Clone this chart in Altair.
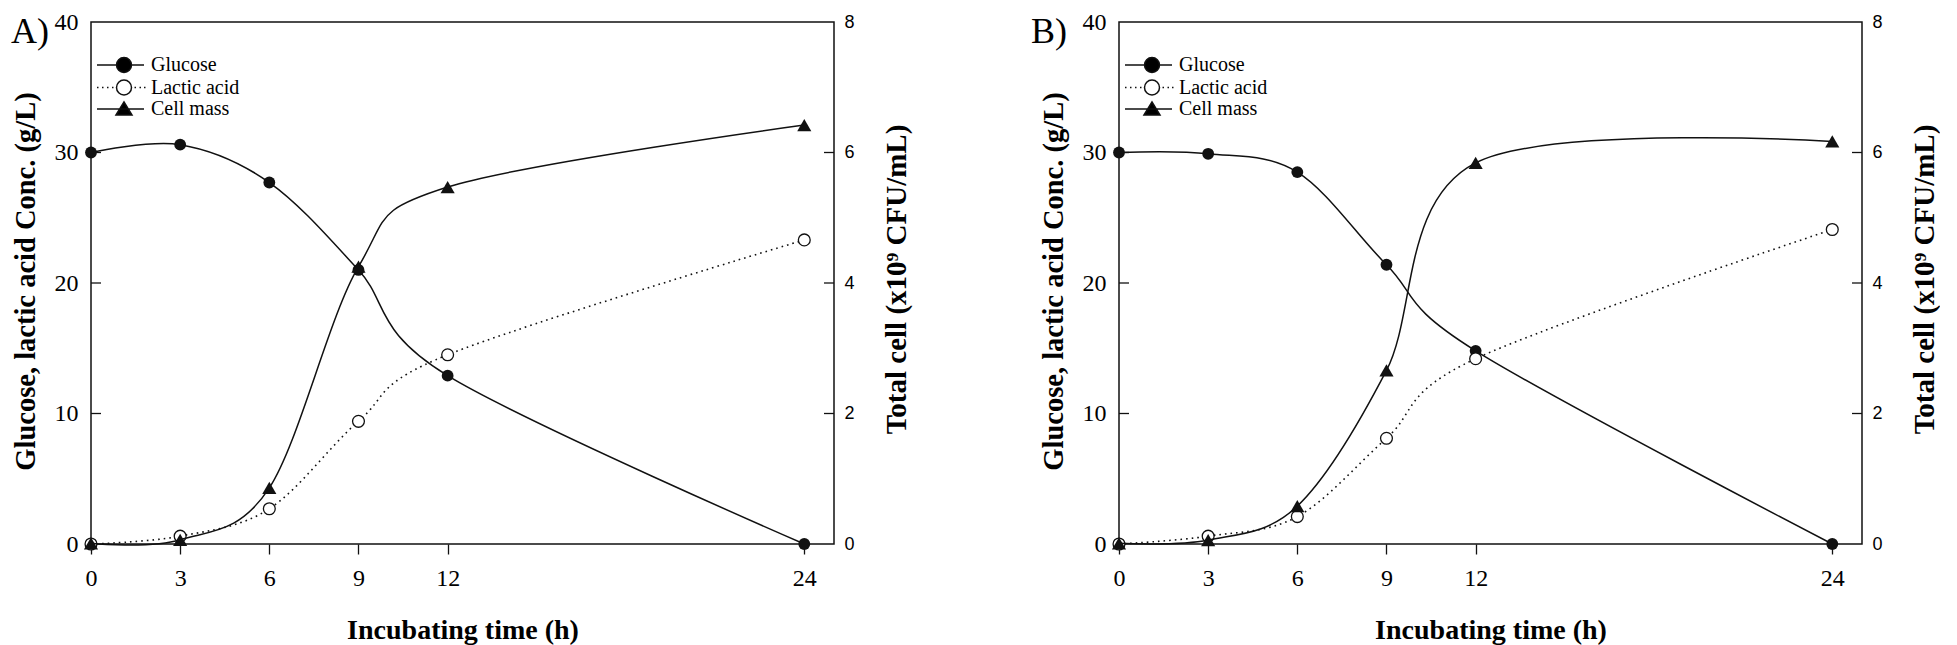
import altair as alt
import pandas as pd

# ---------------- data ----------------
hours = [0, 3, 6, 9, 12, 24]
x_ticks = [0, 3, 6, 9, 12, 24]
left_ticks = [0, 10, 20, 30, 40]
right_ticks = [0, 2, 4, 6, 8]
inner_left_ticks = [10, 20, 30]
inner_right_ticks = [2, 4, 6]
series_names = ["Glucose", "Lactic acid", "Cell mass"]
panel_labels = ["A)", "B)"]

a_glucose = [30.0, 30.6, 27.7, 21.0, 12.9, 0.0]
a_lactic = [0.0, 0.6, 2.7, 9.4, 14.5, 23.3]
a_cell = [0.01, 0.065, 0.86, 4.25, 5.47, 6.42]

b_glucose = [30.0, 29.9, 28.5, 21.4, 14.8, 0.0]
b_lactic = [0.0, 0.6, 2.1, 8.1, 14.2, 24.1]
b_cell = [0.01, 0.06, 0.58, 2.66, 5.84, 6.17]

# ---------------- styling ----------------
SERIF = "Liberation Serif"
SANS = "Liberation Sans"
INK = "#111111"
W, H = 743, 522

legend_paths = [
    "M-5.4,0H-1.5 M1.5,0H4 M1.5,0A1.5,1.5 0 1,1 -1.5,0A1.5,1.5 0 1,1 1.5,0Z",
    "M-5.4,0h0.3 M-4.4,0h0.3 M-3.4,0h0.3 M-2.4,0h0.3 M2.1,0h0.3 M3.1,0h0.3 M4.0,0h0.3 "
    "M1.5,0A1.5,1.5 0 1,1 -1.5,0A1.5,1.5 0 1,1 1.5,0Z",
    "M-5.4,0H4 M-1.6,1.2L0,-1.4L1.6,1.2Z",
]
legend_fills = ["black", "white", "black"]
legend_strokes = [INK, INK, INK]


def make_panel(label, label_dx, glucose, lactic, cell):
    conc = pd.DataFrame({
        "time": hours + hours,
        "value": glucose + lactic,
        "series": ["Glucose"] * len(hours) + ["Lactic acid"] * len(hours),
    })
    cells = pd.DataFrame({"time": hours, "value": cell, "series": ["Cell mass"] * len(hours)})
    legend_df = pd.DataFrame({"series": series_names, "time": [0] * 3, "value": [0] * 3})
    lt_df = pd.DataFrame({"value": inner_left_ticks})
    rt_df = pd.DataFrame({"value": inner_right_ticks})
    lab_df = pd.DataFrame({"label": [label]})

    x = alt.X(
        "time:Q",
        scale=alt.Scale(domain=[0, 25], nice=False, zero=True),
        axis=alt.Axis(
            values=x_ticks, title="Incubating time (h)",
            titleFont=SERIF, titleFontSize=28, titleFontWeight="bold", titleColor="black",
            titleY=94, titleBaseline="alphabetic",
            labelFont=SERIF, labelFontSize=24, labelColor="black", labelPadding=12,
            labelFlush=False, labelOverlap=False,
            tickSize=10, tickColor=INK, tickWidth=1.3,
            domain=False, grid=False,
        ),
    )
    yl = alt.Y(
        "value:Q",
        scale=alt.Scale(domain=[0, 40], nice=False),
        axis=alt.Axis(
            orient="left", values=left_ticks,
            title="Glucose, lactic acid Conc. (g/L)",
            titleFont=SERIF, titleFontSize=28.5, titleFontWeight="bold", titleColor="black",
            titleAngle=270, titleX=-66, titleY=H / 2 - 2, titleBaseline="middle", titleAlign="center",
            labelFont=SERIF, labelFontSize=24, labelColor="black", labelPadding=13,
            labelFlush=False, labelOverlap=False,
            ticks=False, tickSize=0, domain=False, grid=False,
        ),
    )
    yr = alt.Y(
        "value:Q",
        scale=alt.Scale(domain=[0, 8], nice=False),
        axis=alt.Axis(
            orient="right", values=right_ticks,
            title="Total cell (x10\u2079 CFU/mL)",
            titleFont=SERIF, titleFontSize=29, titleFontWeight="bold", titleColor="black",
            titleAngle=270, titleX=62, titleY=H / 2 - 4, titleBaseline="middle", titleAlign="center",
            labelFont=SANS, labelFontSize=18, labelColor="black", labelPadding=10,
            labelFlush=False, labelOverlap=False,
            ticks=False, tickSize=0, domain=False, grid=False,
        ),
    )

    leg = alt.Legend(
        title=None, orient="none", legendX=23, legendY=33,
        labelFont=SERIF, labelFontSize=20, labelColor="black", labelLimit=400,
        symbolSize=100, symbolStrokeWidth=1.5, symbolStrokeColor=INK, symbolOpacity=1,
        labelOffset=17, rowPadding=0.5, padding=0,
    )
    legend_layer = alt.Chart(legend_df).mark_point(opacity=0, strokeWidth=1.5).encode(
        x=x, y=yl,
        shape=alt.Shape("series:N", scale=alt.Scale(domain=series_names, range=legend_paths), legend=leg),
        fill=alt.Fill("series:N", scale=alt.Scale(domain=series_names, range=legend_fills), legend=leg),
        stroke=alt.Stroke("series:N", scale=alt.Scale(domain=series_names, range=legend_strokes), legend=leg),
    )

    base = alt.Chart(conc).encode(x=x, y=yl)
    glu = base.transform_filter(alt.datum.series == "Glucose")
    lac = base.transform_filter(alt.datum.series == "Lactic acid")
    glu_line = glu.mark_line(interpolate="cardinal", color=INK, strokeWidth=1.5)
    lac_line = lac.mark_line(interpolate="cardinal", color=INK, strokeWidth=1.6, strokeDash=[1.6, 4])
    glu_pts = glu.mark_point(shape="circle", filled=True, color=INK, size=140, opacity=1)
    lac_pts = lac.mark_point(shape="circle", filled=True, fill="white", stroke=INK,
                             strokeWidth=1.3, size=140, opacity=1)
    lticks = alt.Chart(lt_df).mark_rule(color=INK, strokeWidth=1.3).encode(
        y=yl, x=alt.value(0), x2=alt.value(10))
    label_layer = alt.Chart(lab_df).mark_text(
        font=SERIF, fontSize=36, align="left", baseline="top", color="black"
    ).encode(text="label:N", x=alt.value(label_dx), y=alt.value(-7))

    left = alt.layer(legend_layer, glu_line, lac_line, glu_pts, lac_pts, lticks, label_layer)

    cbase = alt.Chart(cells).encode(x=x, y=yr)
    cell_line = cbase.mark_line(interpolate="cardinal", color=INK, strokeWidth=1.5)
    cell_pts = cbase.mark_point(shape="triangle-up", filled=True, color=INK, size=200, opacity=1)
    rticks = alt.Chart(rt_df).mark_rule(color=INK, strokeWidth=1.3).encode(
        y=yr, x=alt.value(W - 10), x2=alt.value(W))
    right = alt.layer(cell_line, cell_pts, rticks)

    return alt.layer(left, right).resolve_scale(y="independent").properties(width=W, height=H)


panel_a = make_panel(panel_labels[0], -80, a_glucose, a_lactic, a_cell)
panel_b = make_panel(panel_labels[1], -88, b_glucose, b_lactic, b_cell)

chart = (
    alt.hconcat(panel_a, panel_b, spacing=118)
    .resolve_scale(shape="independent", fill="independent", stroke="independent")
    .resolve_legend(shape="independent", fill="independent", stroke="independent")
    .properties(padding={"left": 2, "top": 1, "right": 0, "bottom": 0}, background="white")
    .configure_view(stroke=INK, strokeWidth=1.5)
)

chart.save("out.html", embed_options={"renderer": "svg", "actions": False})
